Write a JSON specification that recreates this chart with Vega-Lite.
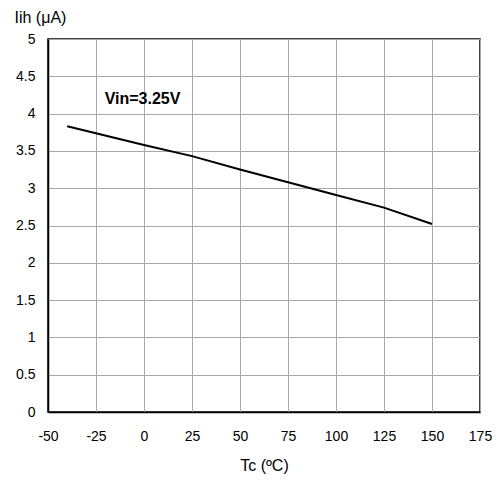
{
  "$schema": "https://vega.github.io/schema/vega-lite/v6.json",
  "width": 432,
  "height": 373,
  "autosize": {"type": "none"},
  "padding": {"left": 48, "top": 39, "right": 22, "bottom": 68},
  "background": "white",
  "config": {
    "font": "Liberation Sans",
    "view": {"stroke": "black", "strokeWidth": 1.5},
    "axis": {
      "labelFont": "Liberation Sans",
      "titleFont": "Liberation Sans",
      "labelFontSize": 14,
      "titleFontSize": 16,
      "labelColor": "black",
      "titleColor": "black",
      "titleFontWeight": "normal",
      "gridColor": "#a8a8a8",
      "gridWidth": 1,
      "gridOpacity": 1,
      "domainColor": "black",
      "domainWidth": 1.5,
      "ticks": false,
      "labelOverlap": false,
      "labelFlush": false,
      "labelExpr": "datum.value + ''"
    }
  },
  "data": {
    "values": [
      {"t": -40, "i": 3.83},
      {"t": 0, "i": 3.58},
      {"t": 25, "i": 3.43},
      {"t": 50, "i": 3.25},
      {"t": 75, "i": 3.08},
      {"t": 100, "i": 2.91},
      {"t": 125, "i": 2.74},
      {"t": 150, "i": 2.52}
    ]
  },
  "encoding": {
    "x": {
      "field": "t",
      "type": "quantitative",
      "scale": {"domain": [-50, 175], "nice": false, "zero": false},
      "axis": {
        "values": [-50, -25, 0, 25, 50, 75, 100, 125, 150, 175],
        "title": "Tc (ºC)",
        "labelPadding": 17,
        "titlePadding": 14
      }
    },
    "y": {
      "field": "i",
      "type": "quantitative",
      "scale": {"domain": [0, 5], "nice": false},
      "axis": {
        "values": [0, 0.5, 1, 1.5, 2, 2.5, 3, 3.5, 4, 4.5, 5],
        "title": "Iih (μA)",
        "titleAngle": 0,
        "titleX": -34,
        "titleY": -22,
        "titleAlign": "left",
        "titleBaseline": "middle",
        "labelPadding": 13
      }
    }
  },
  "layer": [
    {
      "mark": {"type": "line", "color": "black", "strokeWidth": 2}
    },
    {
      "data": {"values": [{"t": -20.5, "i": 4.2, "label": "Vin=3.25V"}]},
      "mark": {"type": "text", "align": "left", "baseline": "middle", "fontWeight": "bold", "fontSize": 16, "font": "Liberation Sans", "color": "black"},
      "encoding": {
        "text": {"field": "label"}
      }
    }
  ]
}
